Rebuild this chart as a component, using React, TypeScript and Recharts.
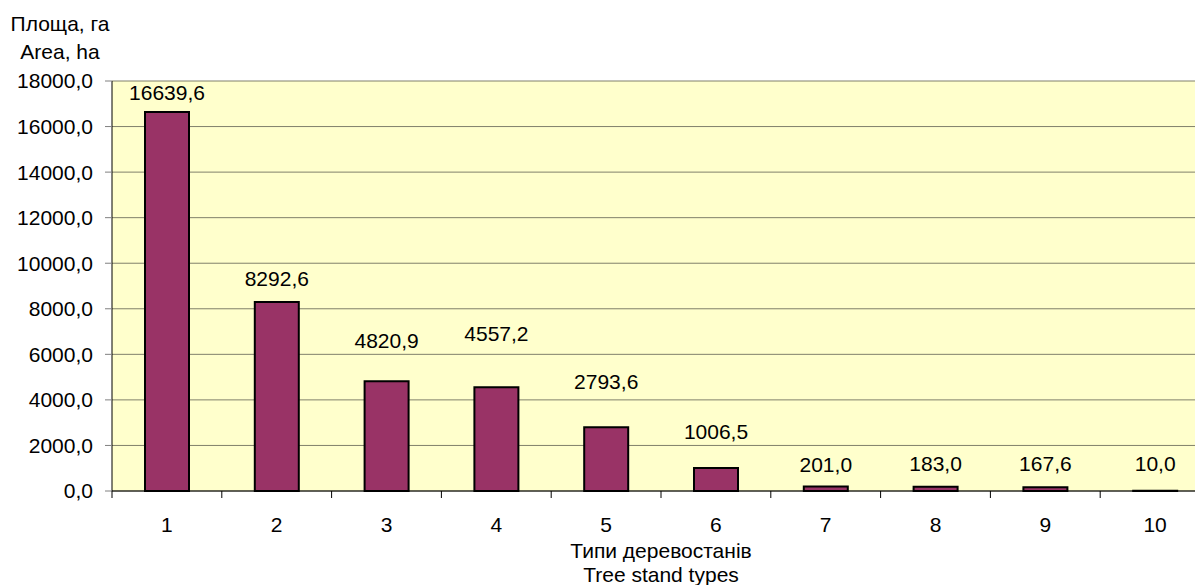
import React from 'react';
import {
    BarChart, Bar, XAxis, YAxis, CartesianGrid, LabelList,
} from 'recharts';

const CATEGORIES = ['1', '2', '3', '4', '5', '6', '7', '8', '9', '10'];
const AREAS = [16639.6, 8292.6, 4820.9, 4557.2, 2793.6, 1006.5, 201.0, 183.0, 167.6, 10.0];
const Y_TICKS = [0, 2000, 4000, 6000, 8000, 10000, 12000, 14000, 16000, 18000];
const Y_TITLE = ['Площа, га', 'Area, ha'];
const X_TITLE = ['Типи деревостанів', 'Tree stand types'];

// how far each value label floats above its bar (px)
const LABEL_LIFT = [19, 23, 41, 54, 46, 36, 22, 23, 24, 27];

const data = CATEGORIES.map((name, i) => ({ name, value: AREAS[i] }));

const CHART_W = 1210;
const CHART_H = 585;
const X_AXIS_H = 94;
const MARGIN = { top: 81, right: 0, bottom: 0, left: 0 };
const Y_AXIS_W = 112;
const PLOT_BOTTOM = CHART_H - X_AXIS_H;
const BAND = (CHART_W - Y_AXIS_W - MARGIN.right) / CATEGORIES.length;
const FONT = "'Liberation Sans', Arial, sans-serif";
const FONT_SIZE = 21;

const fmt = (v: number) => v.toFixed(1).replace('.', ',');

const CategoryTick = (props: any) => {
    const { x, payload, index } = props;
    const half = BAND / 2;
    return (
        <g>
            <line x1={x - half} x2={x - half} y1={PLOT_BOTTOM} y2={PLOT_BOTTOM + 7} stroke="#000" />
            {index === CATEGORIES.length - 1 && (
                <line x1={x + half} x2={x + half} y1={PLOT_BOTTOM} y2={PLOT_BOTTOM + 7} stroke="#000" />
            )}
            <text x={x} y={PLOT_BOTTOM + 34} dy="0.35em" textAnchor="middle" fill="#000"
                fontSize={FONT_SIZE} fontFamily={FONT}>
                {payload.value}
            </text>
        </g>
    );
};

const ValueLabel = (props: any) => {
    const { x, y, width, index, value } = props;
    return (
        <text x={x + width / 2} y={y - LABEL_LIFT[index]} dy="0.35em" textAnchor="middle"
            fill="#000" fontSize={FONT_SIZE} fontFamily={FONT}>
            {fmt(value)}
        </text>
    );
};

const YTitle = () => (
    <g>
        {Y_TITLE.map((t, i) => (
            <text key={t} x={60} y={24 + i * 28} dy="0.35em" textAnchor="middle" fill="#000"
                fontSize={FONT_SIZE} fontFamily={FONT}>{t}</text>
        ))}
    </g>
);

const XTitle = () => (
    <g>
        {X_TITLE.map((t, i) => (
            <text key={t} x={Y_AXIS_W + (CHART_W - Y_AXIS_W) / 2} y={551 + i * 24} dy="0.35em"
                textAnchor="middle" fill="#000" fontSize={FONT_SIZE} fontFamily={FONT}>{t}</text>
        ))}
    </g>
);

const App: React.FC = () => (
    <div style={{
        position: 'absolute', left: 0, top: 0, width: 1195, height: 585,
        overflow: 'hidden', background: '#fff',
    }}>
        <BarChart width={CHART_W} height={CHART_H} data={data} margin={MARGIN}
            style={{ fontFamily: FONT }}>
            <CartesianGrid vertical={false} stroke="#80806a" fill="#FFFFCC" fillOpacity={1} />
            <XAxis dataKey="name" axisLine={{ stroke: '#000' }} tickLine={false}
                tick={<CategoryTick />} interval={0} height={X_AXIS_H}
                label={<XTitle />} />
            <YAxis domain={[0, 18000]} ticks={Y_TICKS} width={Y_AXIS_W} interval={0}
                axisLine={{ stroke: '#000' }} tickLine={{ stroke: '#808080' }} tickSize={7}
                tickMargin={12} tickFormatter={fmt}
                tick={{ fill: '#000', fontSize: FONT_SIZE, fontFamily: FONT }}
                label={<YTitle />} />
            <Bar dataKey="value" fill="#993366" stroke="#000" strokeWidth={2}
                barSize={44} isAnimationActive={false}>
                <LabelList dataKey="value" content={<ValueLabel />} />
            </Bar>
        </BarChart>
    </div>
);

export default App;
